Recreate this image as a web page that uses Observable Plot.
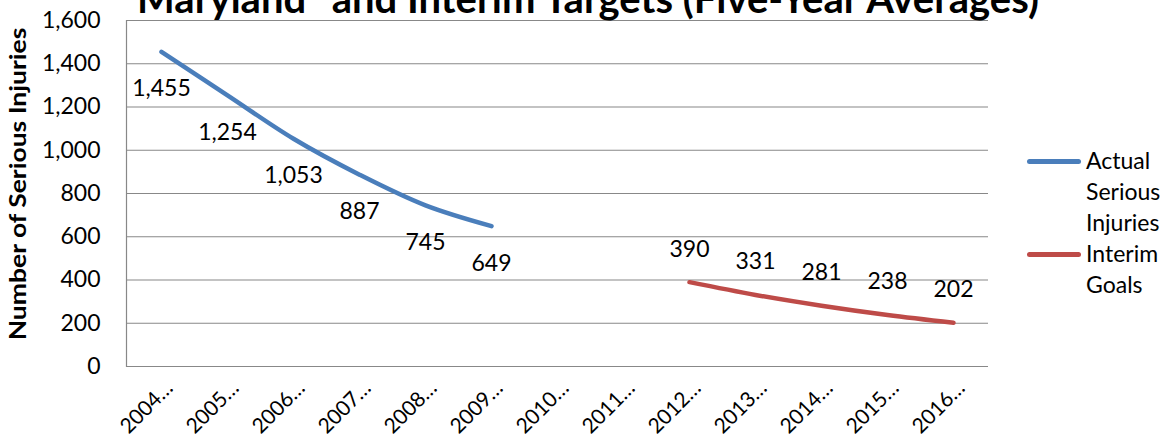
<!DOCTYPE html>
<html>
<head>
<meta charset="utf-8">
<script src="https://cdn.jsdelivr.net/npm/d3@7"></script>
<script src="https://cdn.jsdelivr.net/npm/@observablehq/plot@0.6"></script>
<style>
  body { margin: 0; background: #fff; font-family: Lato, "Open Sans", sans-serif; }
  #wrap { position: relative; width: 1173px; height: 443px; overflow: hidden; }
  #title { position: absolute; top: -26px; left: 0; width: 1173px; text-align: center; padding-left: 3px; box-sizing: border-box;
           font-weight: bold; font-size: 40px; white-space: nowrap; color: #000; }
  #ytitle { position: absolute; left: 17px; top: 184px; transform: translate(-50%, -50%) rotate(-90deg);
            font-weight: bold; font-size: 22px; white-space: nowrap; color: #000; }
  #legend { position: absolute; left: 1027px; top: 145px; font-size: 23px; color: #000; line-height: 31px; }
  .lg-row { position: relative; padding-left: 59px; }
  .lg-line { position: absolute; left: 0; top: 14px; width: 54px; height: 5px; border-radius: 3px; }
  #chart { position: absolute; left: 0; top: 0; }
</style>
</head>
<body>
<div id="wrap">
  <div id="chart"></div>
  <div id="title">Maryland" and Interim Targets (Five-Year Averages)</div>
  <div id="ytitle">Number of Serious Injuries</div>
  <div id="legend"></div>
</div>
<script>
// Categories (x-axis tick labels)
const categories = ["2004…","2005…","2006…","2007…","2008…","2009…","2010…","2011…","2012…","2013…","2014…","2015…","2016…"];

// Series: Actual Serious Injuries
const actualCats = ["2004…","2005…","2006…","2007…","2008…","2009…"];
const actualValues = [1455, 1254, 1053, 887, 745, 649];

// Series: Interim Goals
const goalCats = ["2012…","2013…","2014…","2015…","2016…"];
const goalValues = [390, 331, 281, 238, 202];

// Y ticks
const yTicks = [0, 200, 400, 600, 800, 1000, 1200, 1400, 1600];

const seriesColors = ["#4a7ebb", "#be4b48"];

const actual = actualCats.map((c, i) => ({cat: c, value: actualValues[i]}));
const goals = goalCats.map((c, i) => ({cat: c, value: goalValues[i]}));
const fmt = d3.format(",");

const chart = Plot.plot({
  width: 1173,
  height: 443,
  marginLeft: 126,
  marginRight: 185,
  marginTop: 20,
  marginBottom: 77,
  style: { fontFamily: "Lato, 'Open Sans', sans-serif", background: "transparent", color: "#000" },
  x: { type: "point", domain: categories, padding: 0.5, align: 0.5 },
  y: { domain: [0, 1600] },
  marks: [
    Plot.gridY(yTicks, { stroke: "#888", strokeOpacity: 1, strokeWidth: 1.2 }),
    Plot.frame({ anchor: "left", stroke: "#888", strokeWidth: 1.2 }),
    Plot.axisY(yTicks, { tickSize: 0, tickPadding: 26, tickFormat: fmt, fontSize: 23, label: null }),
    Plot.axisX({ tickSize: 0, tickRotate: -45, tickPadding: 18, fontSize: 21, label: null, dx: 8 }),
    Plot.line(actual, { x: "cat", y: "value", stroke: seriesColors[0], strokeWidth: 4.5, strokeLinecap: "round", strokeLinejoin: "round", curve: "catmull-rom" }),
    Plot.line(goals, { x: "cat", y: "value", stroke: seriesColors[1], strokeWidth: 4.5, strokeLinecap: "round", strokeLinejoin: "round", curve: "catmull-rom" }),
    Plot.text(actual, { x: "cat", y: "value", text: d => fmt(d.value), dy: 37, fontSize: 23, fill: "#000" }),
    Plot.text(goals, { x: "cat", y: "value", text: d => fmt(d.value), dy: -33, fontSize: 23, fill: "#000" })
  ]
});
document.getElementById("chart").appendChild(chart);

// Stretch the axis title to the reference length
const yt = document.getElementById("ytitle");
const ytw = yt.offsetWidth;
yt.style.transform = `translate(-50%, -50%) rotate(-90deg) scaleX(${313 / ytw})`;

// Legend
const legendRows = [
  { lines: ["Actual", "Serious", "Injuries"], color: seriesColors[0] },
  { lines: ["Interim", "Goals"], color: seriesColors[1] }
];
const legend = document.getElementById("legend");
legendRows.forEach(r => {
  r.lines.forEach((t, i) => {
    const row = document.createElement("div");
    row.className = "lg-row";
    row.textContent = t;
    if (i === 0) {
      const ln = document.createElement("div");
      ln.className = "lg-line";
      ln.style.background = r.color;
      row.appendChild(ln);
    }
    legend.appendChild(row);
  });
});
</script>
</body>
</html>
